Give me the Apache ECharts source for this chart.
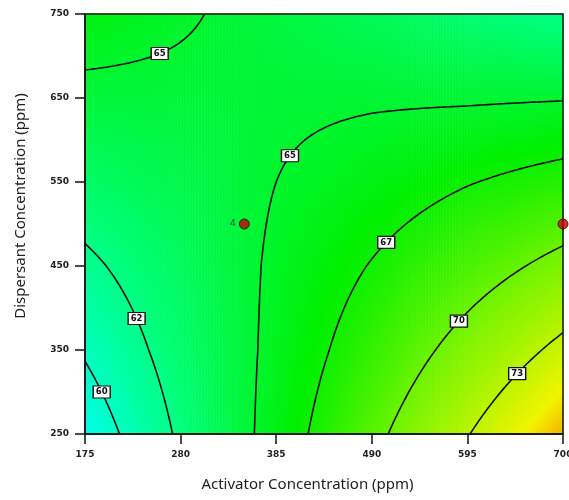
<!DOCTYPE html>
<html>
<head>
<meta charset="utf-8">
<script src="https://cdn.jsdelivr.net/npm/echarts@6/dist/echarts.min.js"></script>
<style>
  html, body { margin: 0; padding: 0; background: #fff; }
  #chart { width: 569px; height: 500px; }
</style>
</head>
<body>
<div id="chart"></div>
<script>
// Factor levels at the tick marks
const activatorTicks = [175, 280, 385, 490, 595, 700];
const dispersantTicks = [250, 350, 450, 550, 650, 750];
// Predicted response at each tick intersection (rows follow dispersantTicks, columns activatorTicks)
const responseGrid = [
  [58.7, 62.3, 65.8, 69.4, 72.9, 76.5],
  [60.2, 62.9, 65.5, 68.2, 70.9, 73.6],
  [61.6, 63.4, 65.3, 67.1, 68.9, 70.7],
  [63.1, 64.0, 65.0, 65.9, 66.9, 67.8],
  [64.5, 64.6, 64.7, 64.8, 64.8, 64.9],
  [66.0, 65.2, 64.4, 63.6, 62.8, 62.0]
];
const contourLevels = [60, 62, 65, 67, 70, 73];
// Design points and their run labels
const designActivator = [350, 700];
const designDispersant = [500, 500];
const designLabels = ['4', ''];

// Where each contour's value tag sits: [level, activator, dispersant]
const labelSpots = [
  [65, 254, 708], [65, 399, 582], [67, 503, 479], [70, 583, 388],
  [73, 646, 325], [62, 233, 388], [60, 194, 302]
];

// Colour ramp for the response, evenly spaced from rampMin to rampMax
const rampMin = 49.5, rampMax = 83.5;
const rampColors = ['#0000ff', '#0080ff', '#00ffff', '#00ff80', '#00f000',
                    '#80f400', '#f2f400', '#ff3000', '#ff0000'];

const xMin = activatorTicks[0], xMax = activatorTicks[activatorTicks.length - 1];
const yMin = dispersantTicks[0], yMax = dispersantTicks[dispersantTicks.length - 1];

// Response between tick intersections (bilinear within each grid cell)
function responseAt(x, y) {
  const nx = activatorTicks.length - 1, ny = dispersantTicks.length - 1;
  const fx = (x - xMin) / (xMax - xMin) * nx;
  const fy = (y - yMin) / (yMax - yMin) * ny;
  const i = Math.min(nx - 1, Math.max(0, Math.floor(fx)));
  const j = Math.min(ny - 1, Math.max(0, Math.floor(fy)));
  const tx = fx - i, ty = fy - j;
  const v00 = responseGrid[j][i], v10 = responseGrid[j][i + 1];
  const v01 = responseGrid[j + 1][i], v11 = responseGrid[j + 1][i + 1];
  return v00 * (1 - tx) * (1 - ty) + v10 * tx * (1 - ty) + v01 * (1 - tx) * ty + v11 * tx * ty;
}

// Colour field cells
const NX = 160, NY = 140;
const heatX = [], heatY = [], heatData = [];
for (let i = 0; i < NX; i++) heatX.push(i);
for (let j = 0; j < NY; j++) heatY.push(j);
for (let j = 0; j < NY; j++) {
  const y = yMin + (j + 0.5) * (yMax - yMin) / NY;
  for (let i = 0; i < NX; i++) {
    const x = xMin + (i + 0.5) * (xMax - xMin) / NX;
    heatData.push([i, j, responseAt(x, y)]);
  }
}

// Marching squares, with segments chained into polylines
function traceContours(level) {
  const M = 160;
  const xs = [], ys = [], v = [];
  for (let i = 0; i <= M; i++) xs.push(xMin + (xMax - xMin) * i / M);
  for (let j = 0; j <= M; j++) ys.push(yMin + (yMax - yMin) * j / M);
  for (let j = 0; j <= M; j++) {
    const row = [];
    for (let i = 0; i <= M; i++) row.push(responseAt(xs[i], ys[j]));
    v.push(row);
  }
  const pts = {}, adj = {};
  const up = val => val >= level;
  function edge(key, x1, y1, v1, x2, y2, v2) {
    if (!pts[key]) {
      const t = (level - v1) / (v2 - v1);
      pts[key] = [x1 + (x2 - x1) * t, y1 + (y2 - y1) * t];
    }
    return key;
  }
  function link(a, b) {
    (adj[a] = adj[a] || []).push(b);
    (adj[b] = adj[b] || []).push(a);
  }
  for (let j = 0; j < M; j++) {
    for (let i = 0; i < M; i++) {
      const v00 = v[j][i], v10 = v[j][i + 1], v01 = v[j + 1][i], v11 = v[j + 1][i + 1];
      const e = [];
      if (up(v00) !== up(v10)) e.push(edge('h' + i + '_' + j, xs[i], ys[j], v00, xs[i + 1], ys[j], v10));
      if (up(v10) !== up(v11)) e.push(edge('v' + (i + 1) + '_' + j, xs[i + 1], ys[j], v10, xs[i + 1], ys[j + 1], v11));
      if (up(v01) !== up(v11)) e.push(edge('h' + i + '_' + (j + 1), xs[i], ys[j + 1], v01, xs[i + 1], ys[j + 1], v11));
      if (up(v00) !== up(v01)) e.push(edge('v' + i + '_' + j, xs[i], ys[j], v00, xs[i], ys[j + 1], v01));
      if (e.length === 2) link(e[0], e[1]);
      else if (e.length === 4) {
        const c = (v00 + v10 + v01 + v11) / 4;
        if (up(c) === up(v00)) { link(e[0], e[1]); link(e[2], e[3]); }
        else { link(e[3], e[0]); link(e[1], e[2]); }
      }
    }
  }
  const used = new Set(), lines = [];
  const walk = start => {
    const line = [start];
    used.add(start);
    let cur = start;
    for (;;) {
      const nxt = (adj[cur] || []).find(k => !used.has(k));
      if (!nxt) break;
      used.add(nxt);
      line.push(nxt);
      cur = nxt;
    }
    return line;
  };
  const keys = Object.keys(adj);
  keys.filter(k => adj[k].length === 1).forEach(k => { if (!used.has(k)) lines.push(walk(k)); });
  keys.forEach(k => { if (!used.has(k)) { const l = walk(k); l.push(l[0]); lines.push(l); } });
  return lines.map(l => l.map(k => pts[k]));
}

const contourSeries = [];
const contourByLevel = {};
contourLevels.forEach(level => {
  const lines = traceContours(level);
  contourByLevel[level] = lines;
  lines.forEach(line => {
    contourSeries.push({
      type: 'line',
      xAxisIndex: 1, yAxisIndex: 1,
      data: line,
      showSymbol: false,
      symbol: 'none',
      smooth: false,
      silent: true,
      z: 4,
      lineStyle: { color: '#111', width: 1.6 }
    });
  });
});

// Value tags placed on the nearest point of their contour
const tagData = labelSpots.map(([level, ax, dy]) => {
  let best = null, bestD = Infinity;
  (contourByLevel[level] || []).forEach(line => line.forEach(p => {
    const dx = (p[0] - ax) / (xMax - xMin), dd = (p[1] - dy) / (yMax - yMin);
    const d = dx * dx + dd * dd;
    if (d < bestD) { bestD = d; best = p; }
  }));
  return { value: best || [ax, dy], level: level };
});

const gridBox = { left: 85, right: 6, top: 14, bottom: 66, outerBoundsMode: 'none', containLabel: false };

const chart = echarts.init(document.getElementById('chart'), null, { renderer: 'canvas' });
chart.setOption({
  animation: false,
  backgroundColor: '#fff',
  grid: [
    Object.assign({ show: false }, gridBox),
    Object.assign({ show: true, z: 10, borderColor: '#111', borderWidth: 1.5, backgroundColor: 'transparent' }, gridBox)
  ],
  visualMap: {
    show: false,
    type: 'continuous',
    seriesIndex: 0,
    min: rampMin,
    max: rampMax,
    inRange: { color: rampColors }
  },
  xAxis: [
    { type: 'category', gridIndex: 0, data: heatX, show: false, boundaryGap: true },
    {
      type: 'value', gridIndex: 1, min: xMin, max: xMax, interval: 105, z: 10,
      axisLine: { show: true, lineStyle: { color: '#111', width: 1.5 } },
      axisTick: { show: true, length: 10, lineStyle: { color: '#111', width: 1.5 } },
      axisLabel: { margin: 16, fontSize: 9, fontWeight: 'bold', color: '#222', fontFamily: 'DejaVu Sans' },
      splitLine: { show: false },
      name: 'Activator Concentration (ppm)',
      nameLocation: 'middle',
      nameGap: 43,
      nameTextStyle: { fontSize: 15, color: '#222', fontFamily: 'Noto Sans', padding: [0, 33, 0, 0] }
    }
  ],
  yAxis: [
    { type: 'category', gridIndex: 0, data: heatY, show: false, boundaryGap: true },
    {
      type: 'value', gridIndex: 1, min: yMin, max: yMax, interval: 100, z: 10,
      axisLine: { show: true, lineStyle: { color: '#111', width: 1.5 } },
      axisTick: { show: true, length: 10, lineStyle: { color: '#111', width: 1.5 } },
      axisLabel: { margin: 16, fontSize: 9, fontWeight: 'bold', color: '#222', fontFamily: 'DejaVu Sans' },
      splitLine: { show: false },
      name: 'Dispersant Concentration (ppm)',
      nameLocation: 'middle',
      nameGap: 57,
      nameTextStyle: { fontSize: 15, color: '#222', fontFamily: 'Noto Sans', padding: [0, 0, 0, 36] }
    }
  ],
  series: [
    {
      type: 'heatmap',
      xAxisIndex: 0, yAxisIndex: 0,
      data: heatData,
      progressive: 0,
      silent: true,
      z: 1,
      itemStyle: { borderWidth: 0 },
      emphasis: { disabled: true }
    },
    ...contourSeries,
    {
      type: 'scatter',
      xAxisIndex: 1, yAxisIndex: 1,
      data: tagData,
      symbol: 'rect',
      symbolSize: [17, 12],
      itemStyle: { color: '#ffffff', borderColor: '#111', borderWidth: 1.2, opacity: 1 },
      silent: true,
      z: 6,
      label: {
        show: true,
        position: 'inside',
        formatter: p => String(p.data.level),
        fontSize: 8.5,
        fontWeight: 'bold',
        fontFamily: 'DejaVu Sans',
        color: '#111'
      },
      labelLayout: { hideOverlap: false }
    },
    {
      type: 'scatter',
      xAxisIndex: 1, yAxisIndex: 1,
      data: designActivator.map((a, k) => ({ value: [a, designDispersant[k]], name: designLabels[k] })),
      symbol: 'circle',
      symbolSize: 10,
      clip: false,
      silent: true,
      z: 12,
      itemStyle: { color: '#c40000', borderColor: '#3a0000', borderWidth: 1 },
      label: {
        show: true,
        position: 'left',
        distance: 3,
        formatter: p => p.data.name,
        fontSize: 9,
        fontFamily: 'DejaVu Sans',
        color: '#222',
        textBorderWidth: 0
      }
    }
  ]
});
</script>
</body>
</html>
